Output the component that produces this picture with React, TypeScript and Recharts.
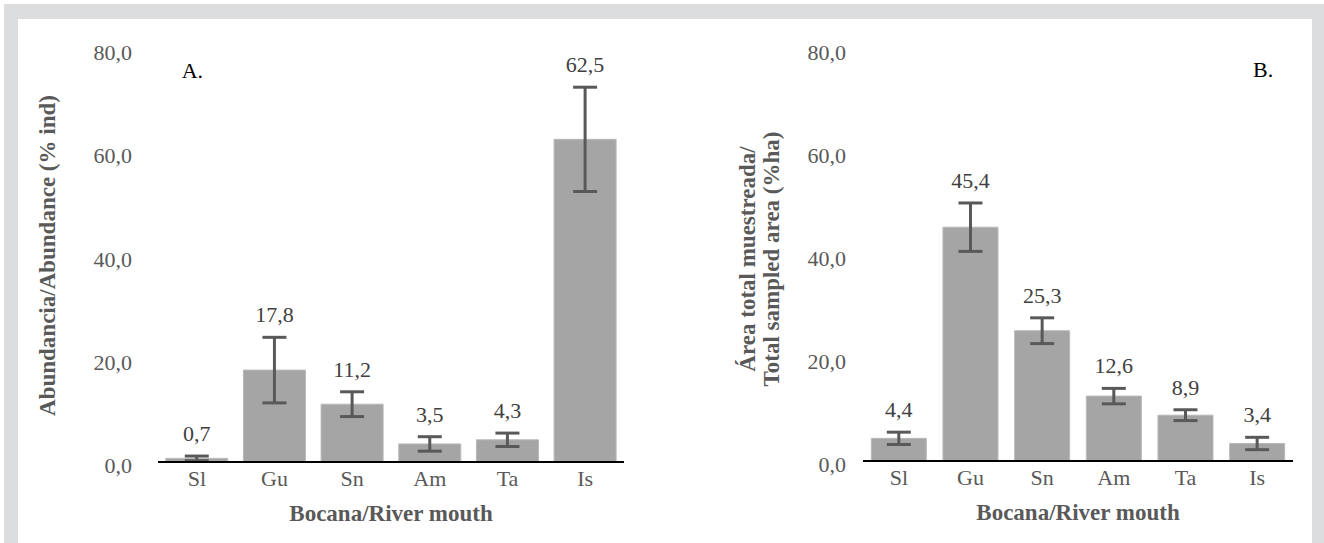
import React from 'react';
import { BarChart, Bar, XAxis, YAxis, ErrorBar, LabelList } from 'recharts';

const categories = ['Sl', 'Gu', 'Sn', 'Am', 'Ta', 'Is'];
const abundanceValues = [0.7, 17.8, 11.2, 3.5, 4.3, 62.5];
const abundanceErrors = [0.45, 6.35, 2.4, 1.4, 1.3, 10.1];
const areaValues = [4.4, 45.4, 25.3, 12.6, 8.9, 3.4];
const areaErrors = [1.2, 4.7, 2.5, 1.5, 1.05, 1.2];
const yTicks = [0, 20, 40, 60, 80];

const xTitle = 'Bocana/River mouth';
const yTitleA = 'Abundancia/Abundance (% ind)';
const yTitleB1 = 'Área total muestreada/';
const yTitleB2 = 'Total sampled area (%ha)';

const dataA = categories.map((c, i) => ({ name: c, value: abundanceValues[i], err: abundanceErrors[i] }));
const dataB = categories.map((c, i) => ({ name: c, value: areaValues[i], err: areaErrors[i] }));

const FONT = "'Liberation Serif', 'Times New Roman', 'DejaVu Serif', serif";
const fmt = (v: number) => Number(v).toFixed(1).replace('.', ',');

const YTick = (props: any) => {
  const { x, y, payload } = props;
  return (
    <text x={x} y={y + 11} textAnchor="end" style={{ fontFamily: FONT, fontSize: 22 }} fill="#595959">
      {fmt(payload.value)}
    </text>
  );
};

const XTick = (props: any) => {
  const { x, y, payload } = props;
  return (
    <text x={x} y={y + 24} textAnchor="middle" style={{ fontFamily: FONT, fontSize: 22 }} fill="#595959">
      {payload.value}
    </text>
  );
};

const makeValueLabel = (values: number[], errors: number[]) => (props: any) => {
  const vb = props.viewBox || {};
  const x = props.x ?? vb.x;
  const y = props.y ?? vb.y;
  const width = props.width ?? vb.width;
  const height = Math.abs(props.height ?? vb.height);
  const value = Number(props.value);
  let index = props.index;
  if (index === undefined || index === null) index = values.indexOf(value);
  const pxPerUnit = value ? height / value : 0;
  const errTop = y - (errors[index] || 0) * pxPerUnit;
  return (
    <text x={x + width / 2} y={errTop - 15} textAnchor="middle" style={{ fontFamily: FONT, fontSize: 22 }} fill="#404040">
      {fmt(value)}
    </text>
  );
};

const XTitle = (props: any) => {
  const vb = props.viewBox;
  return (
    <text x={vb.x + vb.width / 2} y={vb.y + 59} textAnchor="middle" style={{ fontFamily: FONT, fontSize: 23, fontWeight: 'bold' }} fill="#595959">
      {xTitle}
    </text>
  );
};

const YTitleA = (props: any) => {
  const vb = props.viewBox;
  const cx = vb.x + 47;
  const cy = vb.y + vb.height / 2;
  return (
    <text x={cx} y={cy} transform={`rotate(-90, ${cx}, ${cy})`} textAnchor="middle" dominantBaseline="central" style={{ fontFamily: FONT, fontSize: 23, fontWeight: 'bold' }} fill="#595959">
      {yTitleA}
    </text>
  );
};

const YTitleB = (props: any) => {
  const vb = props.viewBox;
  const cy = vb.y + vb.height / 2 + 4;
  const x1 = vb.x + 87;
  const x2 = vb.x + 111;
  return (
    <g style={{ fontFamily: FONT, fontSize: 23, fontWeight: 'bold' }} fill="#595959">
      <text x={x1} y={cy} transform={`rotate(-90, ${x1}, ${cy})`} textAnchor="middle" dominantBaseline="central">{yTitleB1}</text>
      <text x={x2} y={cy} transform={`rotate(-90, ${x2}, ${cy})`} textAnchor="middle" dominantBaseline="central">{yTitleB2}</text>
    </g>
  );
};

export default function App() {
  return (
    <div style={{ position: 'absolute', left: 0, top: 0, width: 1324, height: 543, background: '#ffffff', overflow: 'hidden', fontFamily: FONT }}>
      <div style={{ position: 'absolute', left: 4, top: 4, width: 1320, height: 539, background: '#dcdddf' }} />
      <div style={{ position: 'absolute', left: 18, top: 19, width: 1294, height: 524, background: '#ffffff' }} />

      <div style={{ position: 'absolute', left: 0, top: 0 }}>
        <BarChart width={660} height={543} data={dataA} margin={{ top: 49, right: 36, bottom: 0, left: 0 }} barCategoryGap="10%">
          <XAxis dataKey="name" tickLine={false} tickSize={0} tickMargin={0} axisLine={{ stroke: '#000000', strokeWidth: 2 }} tick={<XTick />} height={81} label={<XTitle />} />
          <YAxis domain={[0, 80]} ticks={yTicks} width={158} axisLine={false} tickLine={false} tickSize={0} tickMargin={26} tick={<YTick />} label={<YTitleA />} />
          <Bar dataKey="value" fill="#a5a5a5" stroke="#b8b8b8" strokeWidth={1} isAnimationActive={false}>
            <ErrorBar dataKey="err" direction="y" width={12} strokeWidth={3} stroke="#595959" isAnimationActive={false} />
            <LabelList dataKey="value" content={makeValueLabel(abundanceValues, abundanceErrors)} />
          </Bar>
          <text x={181.7} y={77.7} style={{ fontFamily: FONT, fontSize: 22 }} fill="#000000">A.</text>
        </BarChart>
      </div>

      <div style={{ position: 'absolute', left: 660, top: 0 }}>
        <BarChart width={664} height={543} data={dataB} margin={{ top: 49, right: 31, bottom: 0, left: 0 }} barCategoryGap="11.6%">
          <XAxis dataKey="name" tickLine={false} tickSize={0} tickMargin={0} axisLine={{ stroke: '#000000', strokeWidth: 2 }} tick={<XTick />} height={82} label={<XTitle />} />
          <YAxis domain={[0, 80]} ticks={yTicks} width={203} axisLine={false} tickLine={false} tickSize={0} tickMargin={17} tick={<YTick />} label={<YTitleB />} />
          <Bar dataKey="value" fill="#a5a5a5" stroke="#b8b8b8" strokeWidth={1} isAnimationActive={false}>
            <ErrorBar dataKey="err" direction="y" width={12} strokeWidth={3} stroke="#595959" isAnimationActive={false} />
            <LabelList dataKey="value" content={makeValueLabel(areaValues, areaErrors)} />
          </Bar>
          <text x={593} y={77} style={{ fontFamily: FONT, fontSize: 22 }} fill="#000000">B.</text>
        </BarChart>
      </div>
    </div>
  );
}
